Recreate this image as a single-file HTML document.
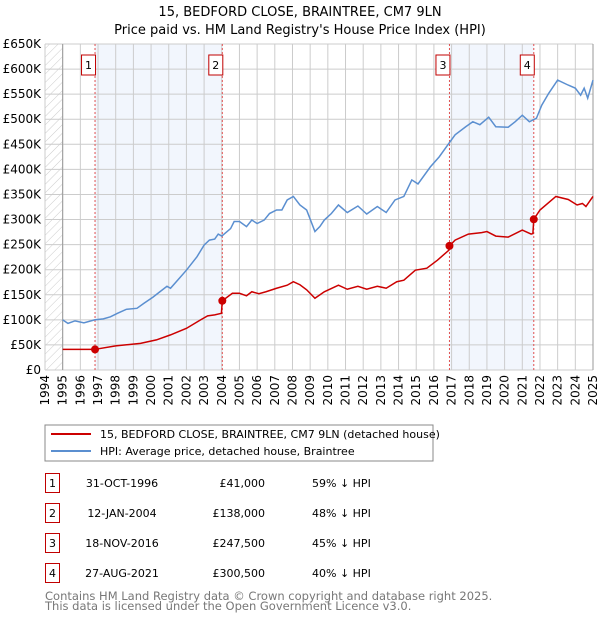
<!DOCTYPE html>
<html><head><meta charset="utf-8"><style>
body{margin:0;background:#fff;font-family:"DejaVu Sans","Liberation Sans",sans-serif}
svg text{font-family:"DejaVu Sans","Liberation Sans",sans-serif}
</style></head><body>
<svg id="c" width="600" height="620" xmlns="http://www.w3.org/2000/svg">
<defs><pattern id="hatch" width="6" height="6" patternUnits="userSpaceOnUse" patternTransform="rotate(45)"><line x1="0" y1="0" x2="0" y2="6" stroke="#ccc" stroke-width="1"/></pattern></defs>
<text x="300" y="16" text-anchor="middle" font-size="13">15, BEDFORD CLOSE, BRAINTREE, CM7 9LN</text>
<text x="300" y="34" text-anchor="middle" font-size="13">Price paid vs. HM Land Registry's House Price Index (HPI)</text>
<g id="plot"></g>
<rect x="45" y="425" width="388" height="36" fill="#fff" stroke="#888"/>
<line x1="51" y1="434" x2="91" y2="434" stroke="#cc0000" stroke-width="2"/>
<text x="100" y="438" font-size="11">15, BEDFORD CLOSE, BRAINTREE, CM7 9LN (detached house)</text>
<line x1="51" y1="451" x2="91" y2="451" stroke="#5b8fd0" stroke-width="2"/>
<text x="100" y="455" font-size="11">HPI: Average price, detached house, Braintree</text>
<g id="table" font-size="11"></g>
<text x="45" y="600" font-size="11.5" fill="#777">Contains HM Land Registry data © Crown copyright and database right 2025.</text>
<text x="45" y="610" font-size="11.5" fill="#777">This data is licensed under the Open Government Licence v3.0.</text>
</svg>
<script>
const yTicks=[0,50,100,150,200,250,300,350,400,450,500,550,600,650];
const yLabels=["£0","£50K","£100K","£150K","£200K","£250K","£300K","£350K","£400K","£450K","£500K","£550K","£600K","£650K"];
const years=[1994,1995,1996,1997,1998,1999,2000,2001,2002,2003,2004,2005,2006,2007,2008,2009,2010,2011,2012,2013,2014,2015,2016,2017,2018,2019,2020,2021,2022,2023,2024,2025];
const hpiT=[1995.0,1995.3,1995.7,1996.2,1996.8,1997.3,1997.7,1998.1,1998.6,1999.2,1999.6,2000.1,2000.5,2000.9,2001.1,2001.6,2002.0,2002.6,2003.0,2003.3,2003.6,2003.8,2004.0,2004.5,2004.7,2005.0,2005.4,2005.7,2006.0,2006.4,2006.7,2007.1,2007.4,2007.7,2008.05,2008.42,2008.8,2009.27,2009.55,2009.8,2010.2,2010.6,2011.1,2011.7,2012.2,2012.8,2013.3,2013.8,2014.3,2014.75,2015.1,2015.8,2016.3,2016.85,2017.2,2017.8,2018.2,2018.6,2019.1,2019.5,2020.2,2020.6,2021.0,2021.4,2021.8,2022.1,2022.5,2023.0,2023.6,2024.0,2024.3,2024.5,2024.7,2025.0];
const hpiV=[100,93,98,94,100,102,106,113,121,123,133,145,156,167,163,183,199,226,249,259,261,271,267,282,296,296,286,299,292,299,312,319,319,339,346,329,319,276,286,299,312,329,314,327,311,326,314,339,346,379,371,405,425,452,469,485,495,489,504,485,484,495,508,495,502,528,552,578,568,562,548,562,542,578];
const ppT=[1995.0,1996.8,1998.0,1999.4,2000.3,2001.1,2002.0,2002.8,2003.2,2003.6,2003.98,2004.03,2004.6,2005.0,2005.4,2005.7,2006.1,2006.5,2007.1,2007.7,2008.05,2008.42,2008.8,2009.27,2009.8,2010.6,2011.1,2011.7,2012.2,2012.8,2013.3,2013.9,2014.3,2014.95,2015.6,2016.2,2016.85,2016.88,2017.2,2017.95,2018.7,2019.0,2019.5,2020.2,2021.0,2021.5,2021.6,2021.65,2022.0,2022.9,2023.6,2024.1,2024.4,2024.6,2025.0];
const ppV=[41,41,48,53,60,70,83,100,108,110,113,138,153,153,148,156,152,156,163,169,176,170,160,143,156,169,161,167,161,167,163,176,179,199,203,219,239,247.5,259,271,274,276,267,265,279,271,272,300.5,319,346,340,329,332,326,346];
const saleT=[1996.83,2004.03,2016.88,2021.65];
const saleV=[41,138,247.5,300.5];
const saleLabels=["1","2","3","4"];
const saleDates=["31-OCT-1996","12-JAN-2004","18-NOV-2016","27-AUG-2021"];
const salePrices=["£41,000","£138,000","£247,500","£300,500"];
const saleHpi=["59% ↓ HPI","48% ↓ HPI","45% ↓ HPI","40% ↓ HPI"];
const NS="http://www.w3.org/2000/svg";
const X0=45,X1=593,Y0=370,Y1=44;
const x=t=>X0+(t-1994)*(X1-X0)/31;
const y=v=>Y0-v*(Y0-Y1)/650;
const plot=document.getElementById('plot');
function mk(tag,attrs,parent){const e=document.createElementNS(NS,tag);for(const k in attrs)e.setAttribute(k,attrs[k]);(parent||plot).appendChild(e);return e;}
let e;
e=mk('rect',{x:X0,y:Y1,width:X1-X0,height:Y0-Y1,fill:'#fff'});


e=mk('rect',{x:X0,y:Y1,width:x(1995)-X0,height:Y0-Y1,fill:'url(#hatch)'});


[[0,1],[2,3]].forEach((p,i)=>{e=mk('rect',{x:x(saleT[p[0]]),y:Y1,width:x(saleT[p[1]])-x(saleT[p[0]]),height:Y0-Y1,fill:'#f2f6fd'});

});
yTicks.forEach((v,i)=>{e=mk('line',{x1:X0,x2:X1,y1:y(v),y2:y(v),stroke:'#ccc'});


e=mk('text',{x:41,y:y(v)+4,'text-anchor':'end','font-size':12});e.textContent=yLabels[i];

});
years.forEach(t=>{e=mk('line',{x1:x(t),x2:x(t),y1:Y1,y2:Y0,stroke:'#ccc'});


e=mk('text',{x:0,y:0,'text-anchor':'end','font-size':12,transform:`translate(${x(t)+4},375) rotate(-90)`});e.textContent=t;

});
e=mk('line',{x1:x(1995),x2:x(1995),y1:Y1,y2:Y0,stroke:'#999'});


e=mk('line',{x1:X1,x2:X1,y1:Y1,y2:Y0,stroke:'#999'});


saleT.forEach((t,i)=>{e=mk('line',{x1:x(t),x2:x(t),y1:Y1,y2:Y0,stroke:'#e05050','stroke-dasharray':'2,2'});


e=mk('rect',{x:x(t)-13.5,y:55,width:14,height:20,fill:'#fff',stroke:'#c00000'});


e=mk('text',{x:x(t)-6.5,y:69,'text-anchor':'middle','font-size':11});e.textContent=saleLabels[i];

});
e=mk('polyline',{points:hpiT.map((t,i)=>x(t)+','+y(hpiV[i])).join(' '),fill:'none',stroke:'#5b8fd0','stroke-width':1.5});


e=mk('polyline',{points:ppT.map((t,i)=>x(t)+','+y(ppV[i])).join(' '),fill:'none',stroke:'#cc0000','stroke-width':1.5});


saleT.forEach((t,i)=>{e=mk('circle',{cx:x(t),cy:y(saleV[i]),r:4,fill:'#cc0000'});

});
const tb=document.getElementById('table');
saleT.forEach((t,i)=>{const cy=483+i*30;
e=mk('rect',{x:45.5,y:cy-9.5,width:14,height:19,fill:'#fff',stroke:'#c00000'},tb);


e=mk('text',{x:52.5,y:cy+4,'text-anchor':'middle'},tb);e.textContent=saleLabels[i];


e=mk('text',{x:122,y:cy+4,'text-anchor':'middle'},tb);e.textContent=saleDates[i];


e=mk('text',{x:265,y:cy+4,'text-anchor':'end'},tb);e.textContent=salePrices[i];


e=mk('text',{x:312,y:cy+4},tb);e.textContent=saleHpi[i];

});
</script>
</body></html>
